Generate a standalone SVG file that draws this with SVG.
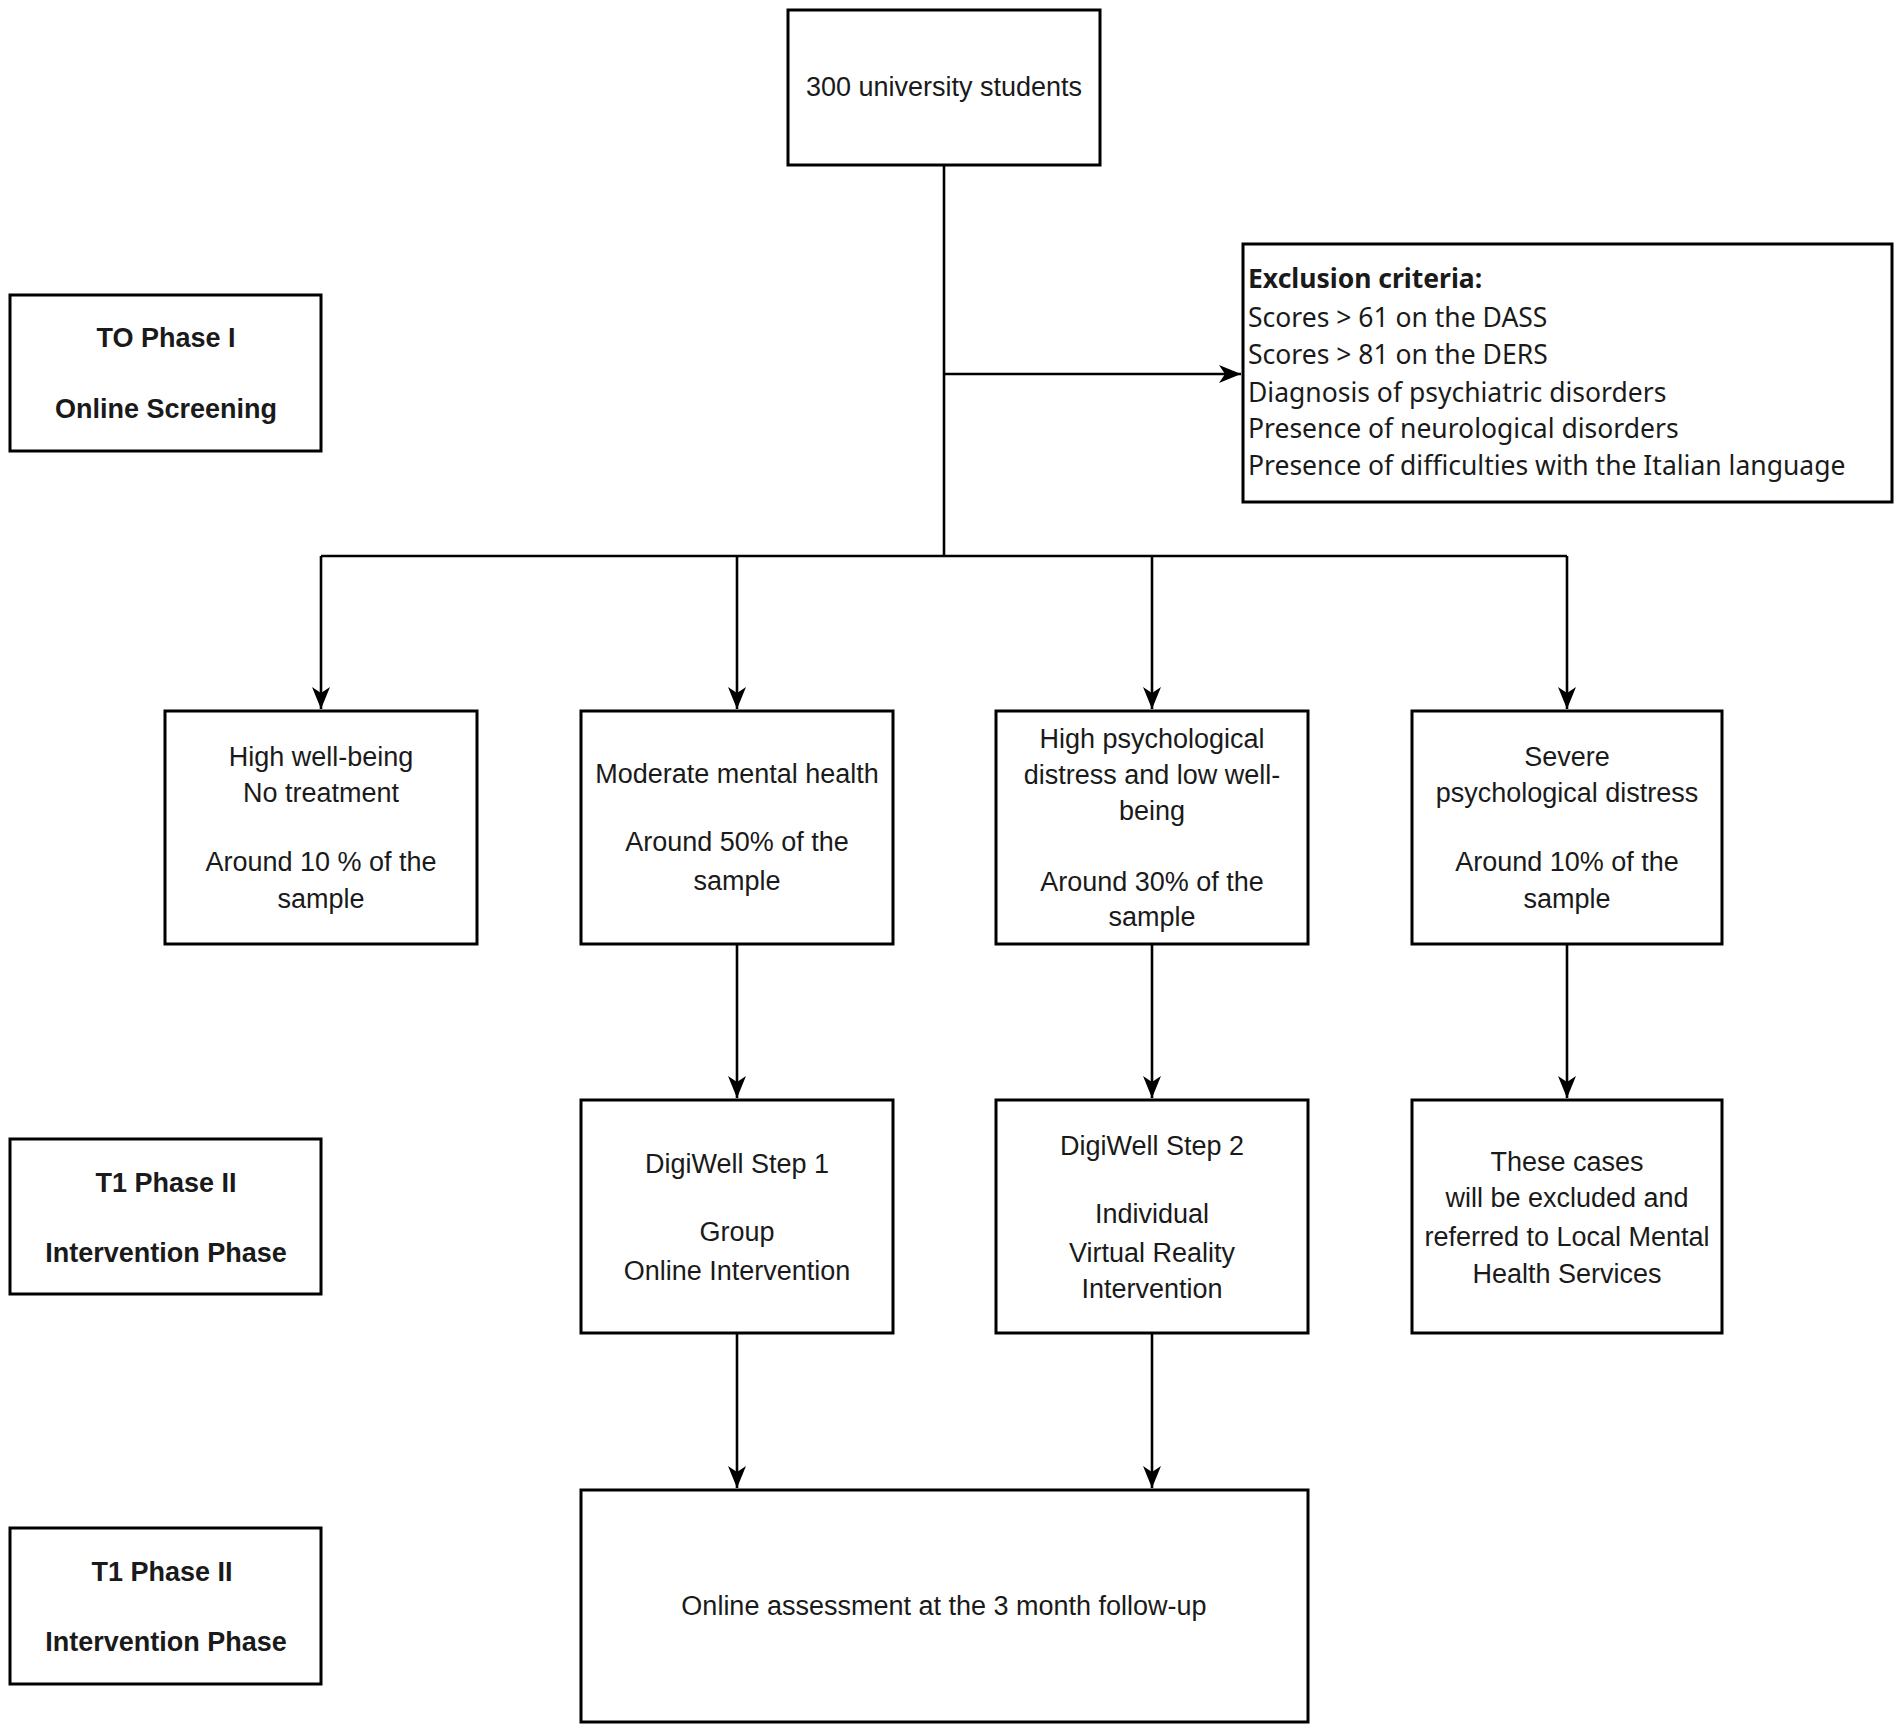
<svg xmlns="http://www.w3.org/2000/svg" width="1902" height="1733" viewBox="0 0 1902 1733">
<style>
.box{fill:#fff;stroke:#000;stroke-width:3}
.ln{fill:none;stroke:#000;stroke-width:2.6}
.t{font-family:"Liberation Sans",Arial,sans-serif;font-size:27px;fill:#1a1a1a;text-anchor:middle}
.b{font-weight:bold}
.ex{font-family:"Noto Sans","Open Sans",sans-serif;font-size:26.5px;fill:#1a1a1a}
</style>
<defs>
<marker id="ah" markerUnits="userSpaceOnUse" markerWidth="24" markerHeight="20" refX="22" refY="10" orient="auto">
<path d="M0,1 L22,10 L0,19 L6,10 Z" fill="#000"/>
</marker>
</defs>
<rect width="1902" height="1733" fill="#fff"/>
<g id="connectors">
<path class="ln" d="M944,165 V556"/>
<path class="ln" d="M944,374 H1241" marker-end="url(#ah)"/>
<path class="ln" d="M321,556 H1567"/>
<path class="ln" d="M321,556 V709" marker-end="url(#ah)"/>
<path class="ln" d="M737,556 V709" marker-end="url(#ah)"/>
<path class="ln" d="M1152,556 V709" marker-end="url(#ah)"/>
<path class="ln" d="M1567,556 V709" marker-end="url(#ah)"/>
<path class="ln" d="M737,944 V1098" marker-end="url(#ah)"/>
<path class="ln" d="M1152,944 V1098" marker-end="url(#ah)"/>
<path class="ln" d="M1567,944 V1098" marker-end="url(#ah)"/>
<path class="ln" d="M737,1333 V1488" marker-end="url(#ah)"/>
<path class="ln" d="M1152,1333 V1488" marker-end="url(#ah)"/>
</g>
<g id="n-start">
<rect class="box" x="788" y="10" width="312" height="155"/>
<text class="t" x="944" y="96">300 university students</text>
</g>
<g id="n-phase1">
<rect class="box" x="10" y="295" width="311" height="156"/>
<text class="t b" x="166" y="347">TO Phase I</text>
<text class="t b" x="166" y="418">Online Screening</text>
</g>
<g id="n-exclusion">
<rect class="box" x="1243" y="244" width="649" height="258"/>
<text class="ex" x="1248" y="288" font-weight="bold">Exclusion criteria:</text>
<text class="ex" x="1248" y="327">Scores &gt; 61 on the DASS</text>
<text class="ex" x="1248" y="364">Scores &gt; 81 on the DERS</text>
<text class="ex" x="1248" y="402">Diagnosis of psychiatric disorders</text>
<text class="ex" x="1248" y="438">Presence of neurological disorders</text>
<text class="ex" x="1248" y="475">Presence of difficulties with the Italian language</text>
</g>
<g id="n-high-wellbeing">
<rect class="box" x="165" y="711" width="312" height="233"/>
<text class="t" x="321" y="766">High well-being</text>
<text class="t" x="321" y="802">No treatment</text>
<text class="t" x="321" y="871">Around 10 % of the</text>
<text class="t" x="321" y="908">sample</text>
</g>
<g id="n-moderate">
<rect class="box" x="581" y="711" width="312" height="233"/>
<text class="t" x="737" y="783">Moderate mental health</text>
<text class="t" x="737" y="851">Around 50% of the</text>
<text class="t" x="737" y="890">sample</text>
</g>
<g id="n-high-distress">
<rect class="box" x="996" y="711" width="312" height="233"/>
<text class="t" x="1152" y="748">High psychological</text>
<text class="t" x="1152" y="784">distress and low well-</text>
<text class="t" x="1152" y="820">being</text>
<text class="t" x="1152" y="891">Around 30% of the</text>
<text class="t" x="1152" y="926">sample</text>
</g>
<g id="n-severe">
<rect class="box" x="1412" y="711" width="310" height="233"/>
<text class="t" x="1567" y="766">Severe</text>
<text class="t" x="1567" y="802">psychological distress</text>
<text class="t" x="1567" y="871">Around 10% of the</text>
<text class="t" x="1567" y="908">sample</text>
</g>
<g id="n-phase2a">
<rect class="box" x="10" y="1139" width="311" height="155"/>
<text class="t b" x="166" y="1192">T1 Phase II</text>
<text class="t b" x="166" y="1262">Intervention Phase</text>
</g>
<g id="n-step1">
<rect class="box" x="581" y="1100" width="312" height="233"/>
<text class="t" x="737" y="1173">DigiWell Step 1</text>
<text class="t" x="737" y="1241">Group</text>
<text class="t" x="737" y="1280">Online Intervention</text>
</g>
<g id="n-step2">
<rect class="box" x="996" y="1100" width="312" height="233"/>
<text class="t" x="1152" y="1155">DigiWell Step 2</text>
<text class="t" x="1152" y="1223">Individual</text>
<text class="t" x="1152" y="1262">Virtual Reality</text>
<text class="t" x="1152" y="1298">Intervention</text>
</g>
<g id="n-referred">
<rect class="box" x="1412" y="1100" width="310" height="233"/>
<text class="t" x="1567" y="1171">These cases</text>
<text class="t" x="1567" y="1207">will be excluded and</text>
<text class="t" x="1567" y="1246">referred to Local Mental</text>
<text class="t" x="1567" y="1283">Health Services</text>
</g>
<g id="n-phase2b">
<rect class="box" x="10" y="1528" width="311" height="156"/>
<text class="t b" x="162" y="1581">T1 Phase II</text>
<text class="t b" x="166" y="1651">Intervention Phase</text>
</g>
<g id="n-followup">
<rect class="box" x="581" y="1490" width="727" height="232"/>
<text class="t" x="944" y="1615">Online assessment at the 3 month follow-up</text>
</g>
</svg>
